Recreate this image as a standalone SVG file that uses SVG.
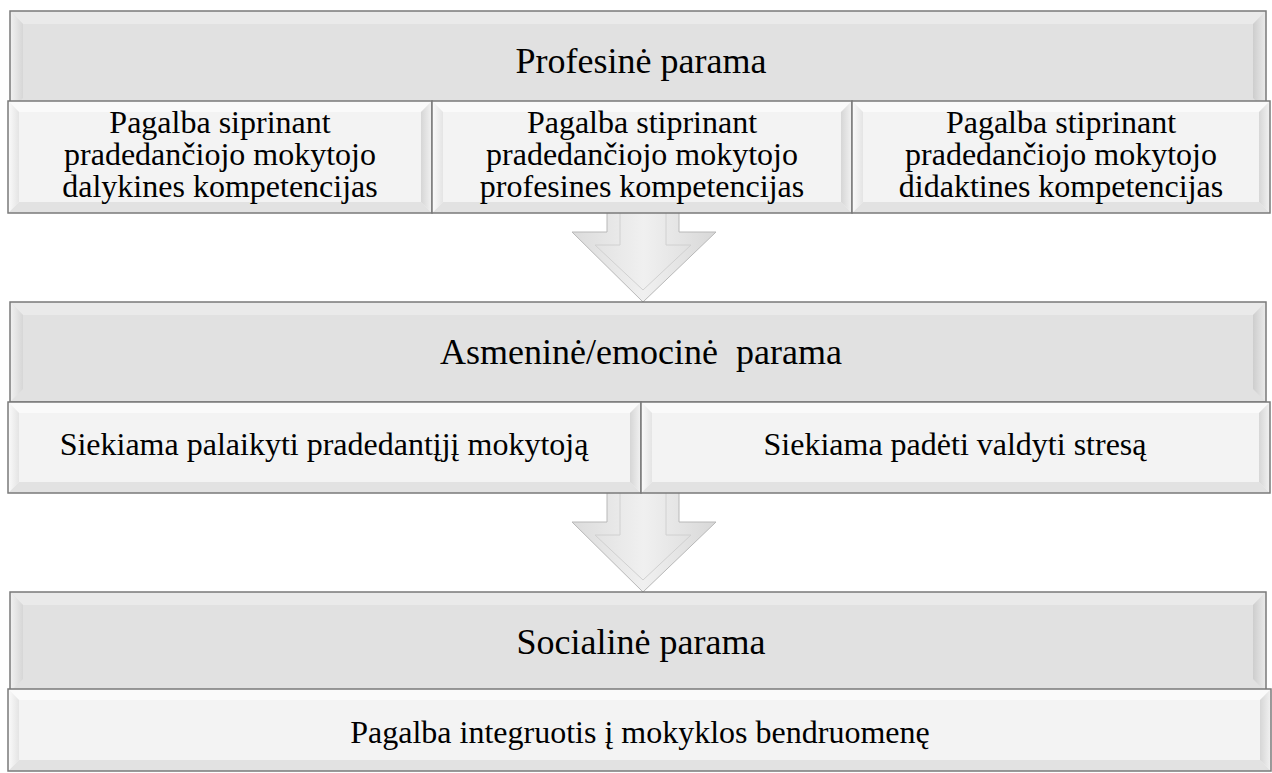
<svg xmlns="http://www.w3.org/2000/svg" width="1272" height="773" viewBox="0 0 1272 773">
  <defs>
    <style>
      .outline { fill: none; stroke: #7a7a7a; stroke-width: 1.5; }
      .big-base { fill: #e1e1e1; }
      .big-top { fill: #eaeaea; }
      .big-left { fill: url(#bevelLeft); }
      .big-right { fill: url(#bevelRight); }
      .sub-base { fill: #f3f3f3; }
      .sub-top { fill: #fafafa; }
      .sub-left { fill: url(#bevelLeftSub); }
      .sub-right { fill: url(#bevelRightSub); }
      .sub-bottom { fill: #e2e2e2; }
      text { font-family: "Liberation Serif", "DejaVu Serif", serif; fill: #000; text-anchor: middle; }
      .title { font-size: 36px; }
      .label { font-size: 32px; }
      .arrow { fill: url(#arrowFill); stroke: #b8b8b8; stroke-width: 1; }
      .arrow-inner { fill: none; stroke: #d0d0d0; stroke-width: 1; }
    </style>
    <linearGradient id="bevelLeft" x1="0" y1="0" x2="1" y2="0">
      <stop offset="0" stop-color="#f2f2f2"/>
      <stop offset="1" stop-color="#d6d6d6"/>
    </linearGradient>
    <linearGradient id="bevelRight" x1="0" y1="0" x2="1" y2="0">
      <stop offset="0" stop-color="#cdcdcd"/>
      <stop offset="1" stop-color="#ececec"/>
    </linearGradient>
    <linearGradient id="bevelLeftSub" x1="0" y1="0" x2="1" y2="0">
      <stop offset="0" stop-color="#fbfbfb"/>
      <stop offset="1" stop-color="#e4e4e4"/>
    </linearGradient>
    <linearGradient id="bevelRightSub" x1="0" y1="0" x2="1" y2="0">
      <stop offset="0" stop-color="#d6d6d6"/>
      <stop offset="1" stop-color="#f2f2f2"/>
    </linearGradient>
    <linearGradient id="arrowFill" x1="0" y1="0" x2="1" y2="0">
      <stop offset="0" stop-color="#dcdcdc"/>
      <stop offset="0.5" stop-color="#f0f0f0"/>
      <stop offset="1" stop-color="#d8d8d8"/>
    </linearGradient>
  </defs>

  <rect width="1272" height="773" fill="#ffffff"/>

  <!-- connectors: block arrows between the tiers -->
  <g id="connectors">
    <g id="arrow-1">
      <polygon class="arrow" points="607,200 679,200 679,232 716,232 643,302 572,232 607,232"/>
      <polyline class="arrow-inner" points="620,213 620,245 595,245 643,290 691,245 666,245 666,213"/>
    </g>
    <g id="arrow-2">
      <polygon class="arrow" points="607,480 679,480 679,522 716,522 643,592 572,522 607,522"/>
      <polyline class="arrow-inner" points="620,493 620,535 595,535 643,580 691,535 666,535 666,493"/>
    </g>
  </g>

  <!-- tier 1 -->
  <g id="profesine">
    <rect class="big-base" x="10" y="11" width="1256" height="100"/>
    <path class="big-top" d="M10 11 H1266 L1253 24 H23 Z"/>
    <path class="big-left" d="M10 11 L23 24 V98 L10 111 Z"/>
    <path class="big-right" d="M1266 11 V111 L1253 98 V24 Z"/>
    <rect class="outline" x="10" y="11" width="1256" height="100"/>
    <text class="title" x="641" y="73" font-family="Liberation Serif, serif">Profesinė parama</text>
  </g>
  <g id="dalykines">
    <rect class="sub-base" x="8" y="101" width="424" height="112"/>
    <path class="sub-top" d="M8 101 H432 L421 112 H19 Z"/>
    <path class="sub-bottom" d="M8 213 H432 L421 202 H19 Z"/>
    <path class="sub-left" d="M8 101 L19 112 V202 L8 213 Z"/>
    <path class="sub-right" d="M432 101 V213 L421 202 V112 Z"/>
    <rect class="outline" x="8" y="101" width="424" height="112"/>
    <text class="label" font-family="Liberation Serif, serif"><tspan x="220" y="133">Pagalba siprinant</tspan><tspan x="220" y="165">pradedančiojo mokytojo</tspan><tspan x="220" y="197">dalykines kompetencijas</tspan></text>
  </g>
  <g id="profesines">
    <rect class="sub-base" x="432" y="101" width="420" height="112"/>
    <path class="sub-top" d="M432 101 H852 L841 112 H443 Z"/>
    <path class="sub-bottom" d="M432 213 H852 L841 202 H443 Z"/>
    <path class="sub-left" d="M432 101 L443 112 V202 L432 213 Z"/>
    <path class="sub-right" d="M852 101 V213 L841 202 V112 Z"/>
    <rect class="outline" x="432" y="101" width="420" height="112"/>
    <text class="label" font-family="Liberation Serif, serif"><tspan x="642" y="133">Pagalba stiprinant</tspan><tspan x="642" y="165">pradedančiojo mokytojo</tspan><tspan x="642" y="197">profesines kompetencijas</tspan></text>
  </g>
  <g id="didaktines">
    <rect class="sub-base" x="852" y="101" width="418" height="112"/>
    <path class="sub-top" d="M852 101 H1270 L1259 112 H863 Z"/>
    <path class="sub-bottom" d="M852 213 H1270 L1259 202 H863 Z"/>
    <path class="sub-left" d="M852 101 L863 112 V202 L852 213 Z"/>
    <path class="sub-right" d="M1270 101 V213 L1259 202 V112 Z"/>
    <rect class="outline" x="852" y="101" width="418" height="112"/>
    <text class="label" font-family="Liberation Serif, serif"><tspan x="1061" y="133">Pagalba stiprinant</tspan><tspan x="1061" y="165">pradedančiojo mokytojo</tspan><tspan x="1061" y="197">didaktines kompetencijas</tspan></text>
  </g>

  <!-- tier 2 -->
  <g id="asmenine">
    <rect class="big-base" x="10" y="302" width="1256" height="100"/>
    <path class="big-top" d="M10 302 H1266 L1253 315 H23 Z"/>
    <path class="big-left" d="M10 302 L23 315 V389 L10 402 Z"/>
    <path class="big-right" d="M1266 302 V402 L1253 389 V315 Z"/>
    <rect class="outline" x="10" y="302" width="1256" height="100"/>
    <text class="title" x="641" y="364" font-family="Liberation Serif, serif" xml:space="preserve">Asmeninė/emocinė  parama</text>
  </g>
  <g id="palaikyti">
    <rect class="sub-base" x="8" y="402" width="633" height="91"/>
    <path class="sub-top" d="M8 402 H641 L630 413 H19 Z"/>
    <path class="sub-bottom" d="M8 493 H641 L630 482 H19 Z"/>
    <path class="sub-left" d="M8 402 L19 413 V482 L8 493 Z"/>
    <path class="sub-right" d="M641 402 V493 L630 482 V413 Z"/>
    <rect class="outline" x="8" y="402" width="633" height="91"/>
    <text class="label" x="324" y="455" font-family="Liberation Serif, serif">Siekiama palaikyti pradedantįjį mokytoją</text>
  </g>
  <g id="stresas">
    <rect class="sub-base" x="641" y="402" width="629" height="91"/>
    <path class="sub-top" d="M641 402 H1270 L1259 413 H652 Z"/>
    <path class="sub-bottom" d="M641 493 H1270 L1259 482 H652 Z"/>
    <path class="sub-left" d="M641 402 L652 413 V482 L641 493 Z"/>
    <path class="sub-right" d="M1270 402 V493 L1259 482 V413 Z"/>
    <rect class="outline" x="641" y="402" width="629" height="91"/>
    <text class="label" x="955" y="455" font-family="Liberation Serif, serif">Siekiama padėti valdyti stresą</text>
  </g>

  <!-- tier 3 -->
  <g id="socialine">
    <rect class="big-base" x="10" y="592" width="1256" height="100"/>
    <path class="big-top" d="M10 592 H1266 L1253 605 H23 Z"/>
    <path class="big-left" d="M10 592 L23 605 V679 L10 692 Z"/>
    <path class="big-right" d="M1266 592 V692 L1253 679 V605 Z"/>
    <rect class="outline" x="10" y="592" width="1256" height="100"/>
    <text class="title" x="641" y="654" font-family="Liberation Serif, serif">Socialinė parama</text>
  </g>
  <g id="integruotis">
    <rect class="sub-base" x="8" y="689" width="1263" height="82"/>
    <path class="sub-top" d="M8 689 H1271 L1260 700 H19 Z"/>
    <path class="sub-bottom" d="M8 771 H1271 L1260 760 H19 Z"/>
    <path class="sub-left" d="M8 689 L19 700 V760 L8 771 Z"/>
    <path class="sub-right" d="M1271 689 V771 L1260 760 V700 Z"/>
    <rect class="outline" x="8" y="689" width="1263" height="82"/>
    <text class="label" x="640" y="743" font-family="Liberation Serif, serif">Pagalba integruotis į mokyklos bendruomenę</text>
  </g>
</svg>
